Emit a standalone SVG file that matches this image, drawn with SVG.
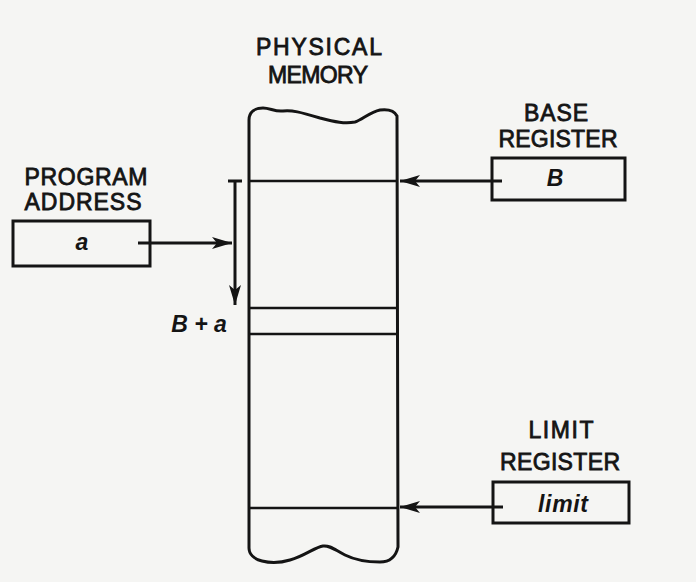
<svg xmlns="http://www.w3.org/2000/svg" width="696" height="582" viewBox="0 0 696 582">
<style>
.lbl{font-family:"Liberation Sans",Arial,sans-serif;font-size:23px;fill:#141414;stroke:#141414;stroke-width:0.8;}
.it{font-family:"Liberation Sans",Arial,sans-serif;font-size:23px;font-style:italic;font-weight:bold;fill:#141414;}
.box{fill:none;stroke:#141414;stroke-width:3;}
.ln{fill:none;stroke:#141414;stroke-width:3;}
.thin{fill:none;stroke:#141414;stroke-width:2.4;}
</style>
<defs>
<marker id="ah" viewBox="0 0 20 12" refX="20" refY="6" markerWidth="20" markerHeight="12" markerUnits="userSpaceOnUse" orient="auto">
<path d="M0,0 L20,6 L0,12 L5,6 Z" fill="#141414"/>
</marker>
</defs>
<rect x="0" y="0" width="696" height="582" fill="#f5f5f3"/>

<g id="memory">
<text class="lbl" x="319" y="55" text-anchor="middle" textLength="126" lengthAdjust="spacing">PHYSICAL</text>
<text class="lbl" x="318" y="83" text-anchor="middle" textLength="100" lengthAdjust="spacing">MEMORY</text>
<path class="box" d="M249 548 L249 120 C249 112 255 108 263 108 C270 108 275 112 283 111 C292 110 300 112 320 118 C335 122 345 124 355 122 C362 120 370 112 380 110 C388 109 394 110 397 116 L398 547 C396 556 390 562 380 562 C370 562 355 560 345 555 C335 550 330 545 323 546 C315 547 305 556 290 560 C280 563 270 563 262 561 C254 559 249 554 249 548 Z"/>
<line class="thin" x1="249" y1="181" x2="398" y2="181"/>
<line class="thin" x1="249" y1="308" x2="398" y2="308"/>
<line class="thin" x1="249" y1="334" x2="398" y2="334"/>
<line class="thin" x1="249" y1="508" x2="398" y2="508"/>
<text class="it" x="199" y="332" text-anchor="middle" font-size="25">B + a</text>
</g>

<g id="program-address">
<text class="lbl" x="86" y="185" text-anchor="middle" textLength="123" lengthAdjust="spacing">PROGRAM</text>
<text class="lbl" x="83" y="210" text-anchor="middle" textLength="117" lengthAdjust="spacing">ADDRESS</text>
<rect class="box" x="13" y="221" width="137" height="45"/>
<text class="it" x="82" y="250" text-anchor="middle">a</text>
</g>

<g id="base-register">
<text class="lbl" x="556" y="121" text-anchor="middle" textLength="64" lengthAdjust="spacing">BASE</text>
<text class="lbl" x="558" y="147" text-anchor="middle" textLength="119" lengthAdjust="spacing">REGISTER</text>
<rect class="box" x="492" y="158" width="133" height="42"/>
<text class="it" x="555" y="186" text-anchor="middle">B</text>
</g>

<g id="limit-register">
<text class="lbl" x="561" y="438" text-anchor="middle" textLength="65" lengthAdjust="spacing">LIMIT</text>
<text class="lbl" x="560" y="470" text-anchor="middle" textLength="120" lengthAdjust="spacing">REGISTER</text>
<rect class="box" x="493" y="482" width="136" height="41"/>
<text class="it" x="563" y="512" text-anchor="middle" textLength="50" lengthAdjust="spacing">limit</text>
</g>

<g id="connectors">
<line class="ln" x1="502" y1="181" x2="400" y2="181" marker-end="url(#ah)"/>
<line class="ln" x1="503" y1="507" x2="400" y2="507" marker-end="url(#ah)"/>
<line class="ln" x1="138" y1="243" x2="232" y2="243" marker-end="url(#ah)"/>
<line class="ln" x1="228" y1="181" x2="242" y2="181"/>
<line class="ln" x1="235" y1="181" x2="235" y2="305" marker-end="url(#ah)"/>
</g>
</svg>
